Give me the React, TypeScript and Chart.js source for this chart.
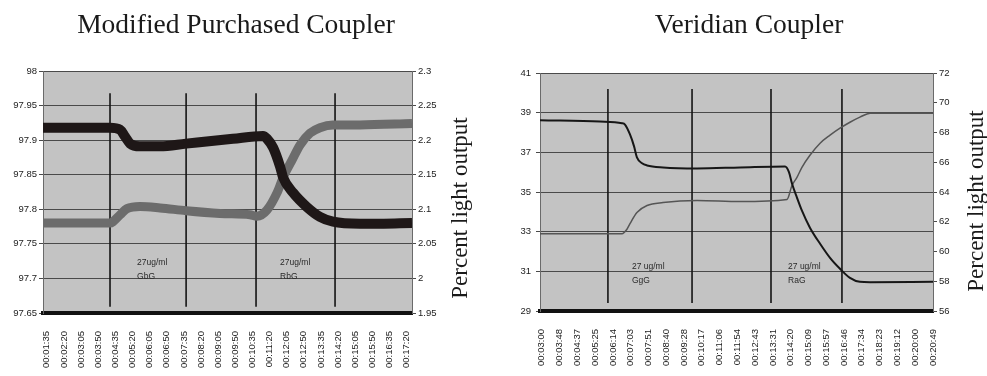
import React, { useEffect, useRef } from "react";
import { Chart, registerables } from "chart.js";

Chart.register(...registerables);

// ---------- text ----------
const leftTitle = "Modified Purchased Coupler";
const rightTitle = "Veridian Coupler";
const axisTitle = "Percent light output";

// ---------- left chart data ----------
const leftLabels = [
  "00:01:35", "00:02:20", "00:03:05", "00:03:50", "00:04:35", "00:05:20",
  "00:06:05", "00:06:50", "00:07:35", "00:08:20", "00:09:05", "00:09:50",
  "00:10:35", "00:11:20", "00:12:05", "00:12:50", "00:13:35", "00:14:20",
  "00:15:05", "00:15:50", "00:16:35", "00:17:20",
];
const leftYTicks = [97.65, 97.7, 97.75, 97.8, 97.85, 97.9, 97.95, 98];
const leftY1Ticks = [1.95, 2, 2.05, 2.1, 2.15, 2.2, 2.25, 2.3];
const leftDarkX = [-0.22, 3.69, 4.28, 4.57, 4.86, 5.44, 6.61, 8.13, 10.86, 12.62, 12.85, 13.21, 13.61, 13.79, 14.37, 15.19, 15.94, 16.7, 18.28, 21.31];
const leftDarkY = [97.918, 97.918, 97.915, 97.905, 97.895, 97.891, 97.891, 97.895, 97.902, 97.906, 97.902, 97.889, 97.862, 97.846, 97.824, 97.803, 97.789, 97.782, 97.779, 97.78];
const leftLightX = [-0.22, 3.69, 3.86, 4.28, 4.68, 5.44, 6.61, 8.13, 10.11, 11.86, 12.27, 12.85, 13.44, 13.79, 14.31, 14.78, 15.36, 15.94, 16.7, 18.28, 21.31];
const leftLightY = [2.08, 2.08, 2.082, 2.092, 2.101, 2.104, 2.102, 2.098, 2.094, 2.092, 2.09, 2.099, 2.124, 2.146, 2.171, 2.193, 2.21, 2.218, 2.222, 2.222, 2.224];
const leftMarkerX = [3.69, 8.13, 12.21, 16.82];
const leftMarkerSpan = [97.968, 97.659];
const leftNoteX = [5.27, 13.61];
const leftNoteY = [97.719, 97.719];
const leftNoteText = [["27ug/ml", "GbG"], ["27ug/ml", "RbG"]];

// ---------- right chart data ----------
const rightLabels = [
  "00:03:00", "00:03:48", "00:04:37", "00:05:25", "00:06:14", "00:07:03",
  "00:07:51", "00:08:40", "00:09:28", "00:10:17", "00:11:06", "00:11:54",
  "00:12:43", "00:13:31", "00:14:20", "00:15:09", "00:15:57", "00:16:46",
  "00:17:34", "00:18:23", "00:19:12", "00:20:00", "00:20:49",
];
const rightYTicks = [29, 31, 33, 35, 37, 39, 41];
const rightY1Ticks = [56, 58, 60, 62, 64, 66, 68, 70, 72];
const rightDarkX = [-0.1, 3.27, 4.51, 4.68, 4.96, 5.19, 5.35, 5.64, 5.92, 6.82, 8.73, 11.15, 13.68, 13.9, 14.07, 14.35, 14.63, 15.08, 15.65, 16.21, 16.77, 17.33, 17.89, 18.46, 22.0];
const rightDarkY = [38.62, 38.55, 38.47, 38.4, 37.9, 37.3, 36.75, 36.45, 36.34, 36.24, 36.19, 36.24, 36.29, 36.0, 35.43, 34.72, 34.06, 33.2, 32.39, 31.68, 31.13, 30.67, 30.47, 30.45, 30.47];
const rightLightX = [-0.1, 4.51, 4.79, 4.96, 5.35, 5.92, 6.82, 8.73, 11.15, 13.79, 14.07, 14.35, 14.63, 15.08, 15.65, 16.21, 16.77, 17.33, 17.89, 18.46, 22.0];
const rightLightY = [61.2, 61.2, 61.5, 61.87, 62.62, 63.09, 63.29, 63.43, 63.36, 63.5, 64.44, 64.98, 65.66, 66.47, 67.28, 67.82, 68.29, 68.69, 69.03, 69.3, 69.3];
const rightMarkerX = [3.72, 8.45, 12.89, 16.88];
const rightMarkerSpan = [40.19, 29.4];
const rightNoteX = [5.07, 13.85];
const rightNoteY = [31.13, 31.13];
const rightNoteText = [["27 ug/ml", "GgG"], ["27 ug/ml", "RaG"]];

// ---------- styling ----------
const TICK_FONT = { family: "'Liberation Sans', Arial, sans-serif", size: 9.5 };
const TICK_COLOR = "#222";
const GRID_COLOR = "#4a4a4a";
const PLOT_BG = "#c3c3c3";

type Spec = {
  title: string;
  titleX: number;
  axisTitleX: number;
  axisTitleY: number;
  labels: string[];
  xMin: number;
  xMax: number;
  yTicks: number[];
  y1Ticks: number[];
  darkX: number[];
  darkY: number[];
  lightX: number[];
  lightY: number[];
  markerX: number[];
  markerSpan: number[];
  noteX: number[];
  noteY: number[];
  noteText: string[][];
  darkWidth: number;
  lightWidth: number;
  darkColor: string;
  lightColor: string;
  padTop: number;
  yWidth: number;
  y1Width: number;
  xHeight: number;
  yPad: number;
};

function pts(xs: number[], ys: number[]) {
  return xs.map((x, i) => ({ x, y: ys[i] }));
}

function buildConfig(s: Spec): any {
  const decor = {
    id: "decor",
    beforeDraw(chart: any) {
      const { ctx, chartArea: a } = chart;
      ctx.save();
      ctx.fillStyle = "#ffffff";
      ctx.fillRect(0, 0, chart.width, chart.height);
      ctx.fillStyle = PLOT_BG;
      ctx.fillRect(a.left, a.top, a.right - a.left, a.bottom - a.top);
      ctx.restore();
    },
    afterDatasetsDraw(chart: any) {
      const { ctx } = chart;
      const xs = chart.scales.x;
      const ys = chart.scales.y;
      ctx.save();
      ctx.fillStyle = "#2a2a2a";
      ctx.font = "8.5px 'Liberation Sans', Arial, sans-serif";
      ctx.textAlign = "left";
      ctx.textBaseline = "alphabetic";
      s.noteX.forEach((nx, i) => {
        const px = xs.getPixelForValue(nx);
        const py = ys.getPixelForValue(s.noteY[i]);
        s.noteText[i].forEach((line, j) => {
          ctx.fillText(line, px, py + j * 14);
        });
      });
      ctx.restore();
    },
    afterDraw(chart: any) {
      const { ctx } = chart;
      ctx.save();
      ctx.fillStyle = "#1a1a1a";
      ctx.font = "27.5px 'Liberation Serif', 'Times New Roman', serif";
      ctx.textAlign = "center";
      ctx.textBaseline = "alphabetic";
      ctx.fillText(s.title, s.titleX, 33);
      ctx.translate(s.axisTitleX, s.axisTitleY);
      ctx.rotate(-Math.PI / 2);
      ctx.font = "23px 'Liberation Serif', 'Times New Roman', serif";
      ctx.fillText(axisTitle, 0, 0);
      ctx.restore();
    },
  };

  const markerSets = s.markerX.map((mx) => ({
    label: "marker",
    data: [
      { x: mx, y: s.markerSpan[0] },
      { x: mx, y: s.markerSpan[1] },
    ],
    yAxisID: "y",
    borderColor: "#151515",
    borderWidth: 1.6,
    pointRadius: 0,
    tension: 0,
  }));

  return {
    type: "line",
    data: {
      datasets: [
        {
          label: "dark",
          data: pts(s.darkX, s.darkY),
          yAxisID: "y",
          borderColor: s.darkColor,
          borderWidth: s.darkWidth,
          pointRadius: 0,
          cubicInterpolationMode: "monotone",
          borderCapStyle: "butt",
        },
        {
          label: "light",
          data: pts(s.lightX, s.lightY),
          yAxisID: "y1",
          borderColor: s.lightColor,
          borderWidth: s.lightWidth,
          pointRadius: 0,
          cubicInterpolationMode: "monotone",
          borderCapStyle: "butt",
        },
        ...markerSets,
      ],
    },
    options: {
      animation: false,
      responsive: false,
      devicePixelRatio: 1,
      events: [],
      layout: { padding: { top: s.padTop, left: 0, right: 0, bottom: 0 } },
      plugins: {
        legend: { display: false },
        tooltip: { enabled: false },
        title: { display: false },
      },
      scales: {
        x: {
          type: "linear",
          position: "bottom",
          min: s.xMin,
          max: s.xMax,
          afterBuildTicks: (sc: any) => {
            sc.ticks = s.labels.map((_, i) => ({ value: i }));
          },
          afterFit: (sc: any) => {
            sc.height = s.xHeight;
          },
          ticks: {
            autoSkip: false,
            maxRotation: 90,
            minRotation: 90,
            padding: 18,
            color: TICK_COLOR,
            font: TICK_FONT,
            callback: (_v: any, i: number) => s.labels[i],
          },
          grid: { display: false, drawTicks: false },
          border: { display: true, color: "#111", width: 4 },
        },
        y: {
          type: "linear",
          position: "left",
          min: s.yTicks[0],
          max: s.yTicks[s.yTicks.length - 1],
          afterBuildTicks: (sc: any) => {
            sc.ticks = s.yTicks.map((v) => ({ value: v }));
          },
          afterFit: (sc: any) => {
            sc.width = s.yWidth;
          },
          ticks: {
            padding: s.yPad,
            color: TICK_COLOR,
            font: TICK_FONT,
            callback: (v: any) => String(v),
          },
          grid: { color: GRID_COLOR, lineWidth: 1, tickLength: 4 },
          border: { display: true, color: "#6a6a6a", width: 1 },
        },
        y1: {
          type: "linear",
          position: "right",
          min: s.y1Ticks[0],
          max: s.y1Ticks[s.y1Ticks.length - 1],
          afterBuildTicks: (sc: any) => {
            sc.ticks = s.y1Ticks.map((v) => ({ value: v }));
          },
          afterFit: (sc: any) => {
            sc.width = s.y1Width;
          },
          ticks: {
            padding: 2,
            color: TICK_COLOR,
            font: TICK_FONT,
            callback: (v: any) => String(v),
          },
          grid: { drawOnChartArea: false, color: GRID_COLOR, tickLength: 4 },
          border: { display: true, color: "#6a6a6a", width: 1 },
        },
      },
    },
    plugins: [decor],
  };
}

const leftSpec: Spec = {
  title: leftTitle,
  titleX: 236,
  axisTitleX: 467,
  axisTitleY: 208,
  labels: leftLabels,
  xMin: -0.22,
  xMax: 21.31,
  yTicks: leftYTicks,
  y1Ticks: leftY1Ticks,
  darkX: leftDarkX,
  darkY: leftDarkY,
  lightX: leftLightX,
  lightY: leftLightY,
  markerX: leftMarkerX,
  markerSpan: leftMarkerSpan,
  noteX: leftNoteX,
  noteY: leftNoteY,
  noteText: leftNoteText,
  darkWidth: 10,
  lightWidth: 9,
  darkColor: "#1e1717",
  lightColor: "#6c6c6c",
  padTop: 71,
  yWidth: 43,
  y1Width: 78,
  xHeight: 63,
  yPad: 2,
};

const rightSpec: Spec = {
  title: rightTitle,
  titleX: 259,
  axisTitleX: 493,
  axisTitleY: 201,
  labels: rightLabels,
  xMin: -0.1,
  xMax: 22.0,
  yTicks: rightYTicks,
  y1Ticks: rightY1Ticks,
  darkX: rightDarkX,
  darkY: rightDarkY,
  lightX: rightLightX,
  lightY: rightLightY,
  markerX: rightMarkerX,
  markerSpan: rightMarkerSpan,
  noteX: rightNoteX,
  noteY: rightNoteY,
  noteText: rightNoteText,
  darkWidth: 2,
  lightWidth: 1.5,
  darkColor: "#161616",
  lightColor: "#555555",
  padTop: 73,
  yWidth: 50,
  y1Width: 54,
  xHeight: 65,
  yPad: 5,
};

function CouplerChart({ spec, width, left }: { spec: Spec; width: number; left: number }) {
  const ref = useRef<HTMLCanvasElement>(null);
  useEffect(() => {
    const chart = new Chart(ref.current as HTMLCanvasElement, buildConfig(spec));
    return () => chart.destroy();
  }, [spec]);
  return (
    <canvas
      ref={ref}
      width={width}
      height={376}
      style={{ position: "absolute", left, top: 0, width, height: 376, display: "block" }}
    />
  );
}

export default function App() {
  return (
    <div
      style={{
        position: "absolute",
        left: 0,
        top: 0,
        width: 987,
        height: 376,
        background: "#fff",
        overflow: "hidden",
      }}
    >
      <CouplerChart spec={leftSpec} width={490} left={0} />
      <CouplerChart spec={rightSpec} width={497} left={490} />
    </div>
  );
}
